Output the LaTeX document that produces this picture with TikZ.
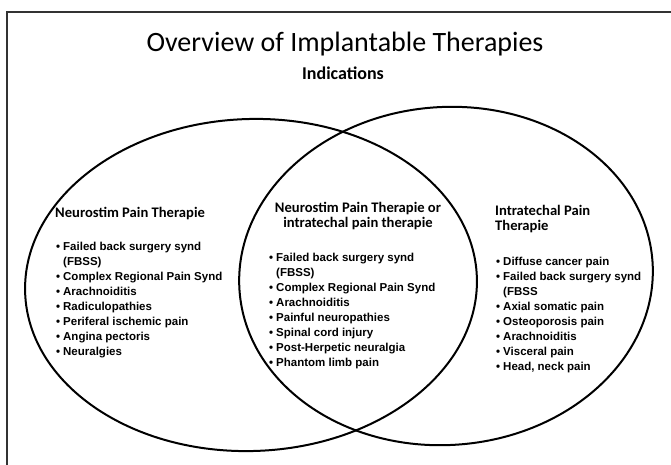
\documentclass[tikz,border=0pt]{standalone}
\usepackage{fontspec}
\setmainfont{Liberation Sans}
\newfontfamily\calib{Carlito}
\newcommand\bl{\makebox[7pt][l]{\textbullet}}
\newcommand\ind{\hspace*{7pt}}
\tikzset{
  ring/.style={draw=black, line width=2pt},
  head/.style={font=\calib\bfseries\fontsize{14.6}{15.5}\selectfont, inner sep=0pt, align=left},
  lst/.style={font=\bfseries\fontsize{11.5}{15}\selectfont, inner sep=0pt, align=left, anchor=north west},
}
\begin{document}
\begin{tikzpicture}[x=1pt,y=-1pt]
\useasboundingbox (0,0) rectangle (671,464);
\fill[white] (0,0) rectangle (671,464);
\draw[line width=1.2pt, black!80] (7,470) -- (7,12) -- (680,12);
\node[font=\calib\fontsize{28}{33}\selectfont, inner sep=0pt, anchor=base] (title) at (345,51) {Overview of Implantable Therapies};
\node[font=\calib\bfseries\fontsize{18}{22}\selectfont, inner sep=0pt, anchor=base] (sub) at (343,79) {Indications};
\draw[ring, rotate around={2:(251,285)}] (251,285) ellipse [x radius=226, y radius=166];
\draw[ring, rotate around={4:(446,276)}] (446,276) ellipse [x radius=207, y radius=169];
\node[head, anchor=base west] (h1) at (55,217) {Neurostim Pain Therapie};
\node[head, align=center] (h2) at (358,216) {Neurostim Pain Therapie or\\intratechal pain therapie};
\node[head, anchor=west] (h3) at (495,219) {Intratechal Pain\\Therapie};
\node[lst] (l1) at (56,241.5) {\bl Failed back surgery synd\\\ind (FBSS)\\\bl Complex Regional  Pain Synd\\\bl Arachnoiditis\\\bl Radiculopathies\\\bl Periferal ischemic pain\\\bl Angina pectoris\\\bl Neuralgies};
\node[lst] (l2) at (269,252.5) {\bl Failed back surgery synd\\\ind (FBSS)\\\bl Complex Regional  Pain Synd\\\bl Arachnoiditis\\\bl Painful neuropathies\\\bl Spinal cord injury\\\bl Post-Herpetic neuralgia\\\bl Phantom limb pain};
\node[lst] (l3) at (496,256.5) {\bl Diffuse cancer pain\\\bl Failed back surgery synd\\\ind (FBSS\\\bl Axial somatic pain\\\bl Osteoporosis pain\\\bl Arachnoiditis\\\bl Visceral pain\\\bl Head, neck pain};
\end{tikzpicture}
\end{document}
